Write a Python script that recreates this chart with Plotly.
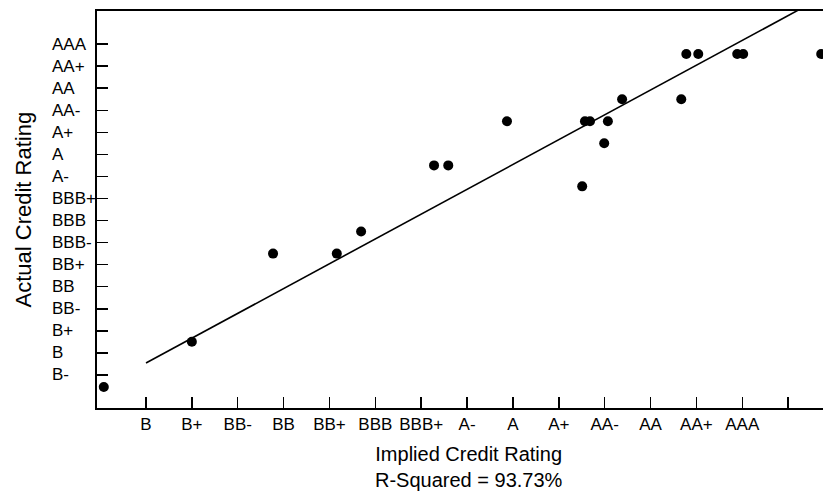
import plotly.graph_objects as go

# ---- data ----
x_tick_vals = [2, 3, 4, 5, 6, 7, 8, 9, 10, 11, 12, 13, 14, 15, 16]
x_tick_text = ["B", "B+", "BB-", "BB", "BB+", "BBB", "BBB+", "A-", "A", "A+",
               "AA-", "AA", "AA+", "AAA", ""]
y_tick_vals = [1, 2, 3, 4, 5, 6, 7, 8, 9, 10, 11, 12, 13, 14, 15, 16]
y_tick_text = ["B-", "B", "B+", "BB-", "BB", "BB+", "BBB-", "BBB", "BBB+",
               "A-", "A", "A+", "AA-", "AA", "AA+", "AAA"]

implied_rating = [1.08, 3.0, 4.77, 6.16, 6.69, 8.28, 8.59, 9.87, 11.51, 11.57,
                  11.68, 12.07, 11.99, 12.38, 13.67, 13.78, 14.04, 14.89, 15.02, 16.72]
actual_rating = [0.45, 2.5, 6.5, 6.5, 7.5, 10.5, 10.5, 12.5, 9.55, 12.5,
                 12.5, 12.5, 11.5, 13.5, 13.5, 15.55, 15.55, 15.55, 15.55, 15.55]

fit_x = [2.0, 16.22]
fit_y = [1.54, 17.54]

x_title = "Implied Credit Rating<br>R-Squared = 93.73%"
y_title = "Actual Credit Rating"

FONT = "Liberation Sans, Arial, sans-serif"
W, H = 823, 491
ML, MR, MT, MB = 97, 0, 11, 83
PW = W - ML - MR
PH = H - MT - MB

fig = go.Figure()
fig.add_trace(go.Scatter(x=fit_x, y=fit_y, mode="lines",
                         line=dict(color="black", width=1.6),
                         showlegend=False, hoverinfo="skip"))
fig.add_trace(go.Scatter(x=implied_rating, y=actual_rating, mode="markers",
                         marker=dict(color="black", size=10),
                         showlegend=False))

annotations = []
for v, t in zip(y_tick_vals, y_tick_text):
    annotations.append(dict(x=(50 - ML) / PW, xref="paper", y=v, yref="y",
                            text=t, showarrow=False, xanchor="left", yanchor="middle",
                            font=dict(family=FONT, size=17, color="black")))
annotations.append(dict(x=(23 - ML) / PW, xref="paper", y=0.5, yref="paper",
                        text=y_title, textangle=-90, showarrow=False,
                        xanchor="center", yanchor="middle",
                        font=dict(family=FONT, size=22, color="black")))
annotations.append(dict(x=(469 - ML) / PW, xref="paper", y=(MT + PH - 467) / PH,
                        yref="paper", text=x_title, showarrow=False,
                        xanchor="center", yanchor="middle",
                        font=dict(family=FONT, size=20, color="black")))

fig.update_layout(
    width=W, height=H,
    margin=dict(l=ML, r=MR, t=MT, b=MB, pad=0, autoexpand=False),
    paper_bgcolor="white", plot_bgcolor="white",
    font=dict(family=FONT, color="black"),
    hovermode=False,
    annotations=annotations,
    xaxis=dict(range=[0.932, 16.76], showgrid=False, zeroline=False,
               showline=True, linecolor="black", linewidth=1.6, mirror=True,
               ticks="inside", ticklen=11, tickwidth=1.5, tickcolor="black",
               tickvals=x_tick_vals, ticktext=x_tick_text,
               tickfont=dict(family=FONT, size=17, color="black")),
    yaxis=dict(range=[-0.5, 17.5], showgrid=False, zeroline=False,
               showline=True, linecolor="black", linewidth=1.6,
               ticks="inside", ticklen=11, tickwidth=1.5, tickcolor="black",
               tickvals=y_tick_vals, showticklabels=False),
)

fig.write_html(
    "out.html",
    config={"displayModeBar": False, "staticPlot": True},
    post_script="document.body.style.margin='0';document.body.style.overflow='hidden';",
)
